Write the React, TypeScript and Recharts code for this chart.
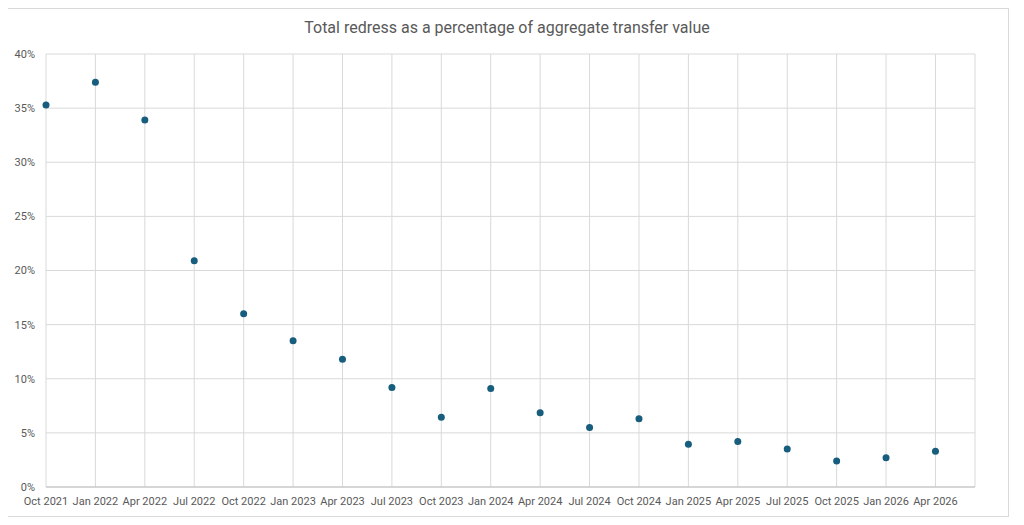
import { ScatterChart, Scatter, XAxis, YAxis, CartesianGrid } from 'recharts'

const quarters = [
  'Oct 2021', 'Jan 2022', 'Apr 2022', 'Jul 2022', 'Oct 2022', 'Jan 2023', 'Apr 2023',
  'Jul 2023', 'Oct 2023', 'Jan 2024', 'Apr 2024', 'Jul 2024', 'Oct 2024', 'Jan 2025',
  'Apr 2025', 'Jul 2025', 'Oct 2025', 'Jan 2026', 'Apr 2026',
]

// redress as % of aggregate transfer value
const redressPct = [
  35.3, 37.4, 33.9, 20.9, 16.0, 13.5, 11.8, 9.2, 6.45, 9.1,
  6.85, 5.5, 6.3, 3.95, 4.2, 3.5, 2.4, 2.7, 3.3,
]

const yTicks = [0, 5, 10, 15, 20, 25, 30, 35, 40]

const data = quarters.map((q, i) => ({ idx: i, label: q, pct: redressPct[i] }))

const FONT = 'Roboto, "Open Sans", sans-serif'
const GREY_TEXT = '#595959'

const Dot = (props: any) => {
  const { cx, cy } = props
  if (cx == null || cy == null) return null
  return <circle cx={cx} cy={cy} r={3.5} fill="#175d7d" />
}

export default function App() {
  return (
    <div style={{
      position: 'relative', marginLeft: -3, width: 1002, height: 507,
      border: '1px solid #d9d9d9', background: '#fff', fontFamily: FONT,
    }}>
      <div style={{
        position: 'absolute', top: 9, left: 0, width: '100%', textAlign: 'center',
        fontSize: 16, color: GREY_TEXT, fontFamily: FONT,
      }}>
        Total redress as a percentage of aggregate transfer value
      </div>
      <ScatterChart width={1002} height={507} margin={{ top: 45, right: 33, left: 0, bottom: 0 }}>
        <CartesianGrid stroke="#d9d9d9" strokeWidth={1} />
        <XAxis
          type="number"
          dataKey="idx"
          domain={[0, 18.8]}
          ticks={quarters.map((_, i) => i)}
          tickFormatter={(v) => quarters[v] ?? ''}
          interval={0}
          height={29}
          tickSize={0}
          tickMargin={10}
          axisLine={{ stroke: '#bfbfbf' }}
          tick={{ fontSize: 11, fill: GREY_TEXT, fontFamily: FONT }}
        />
        <YAxis
          type="number"
          dataKey="pct"
          domain={[0, 40]}
          ticks={yTicks}
          tickFormatter={(v) => `${v}%`}
          width={40}
          tickSize={0}
          tickMargin={11}
          axisLine={false}
          tick={{ fontSize: 11, fill: GREY_TEXT, fontFamily: FONT }}
        />
        <Scatter data={data} shape={<Dot />} isAnimationActive={false} />
      </ScatterChart>
    </div>
  )
}
